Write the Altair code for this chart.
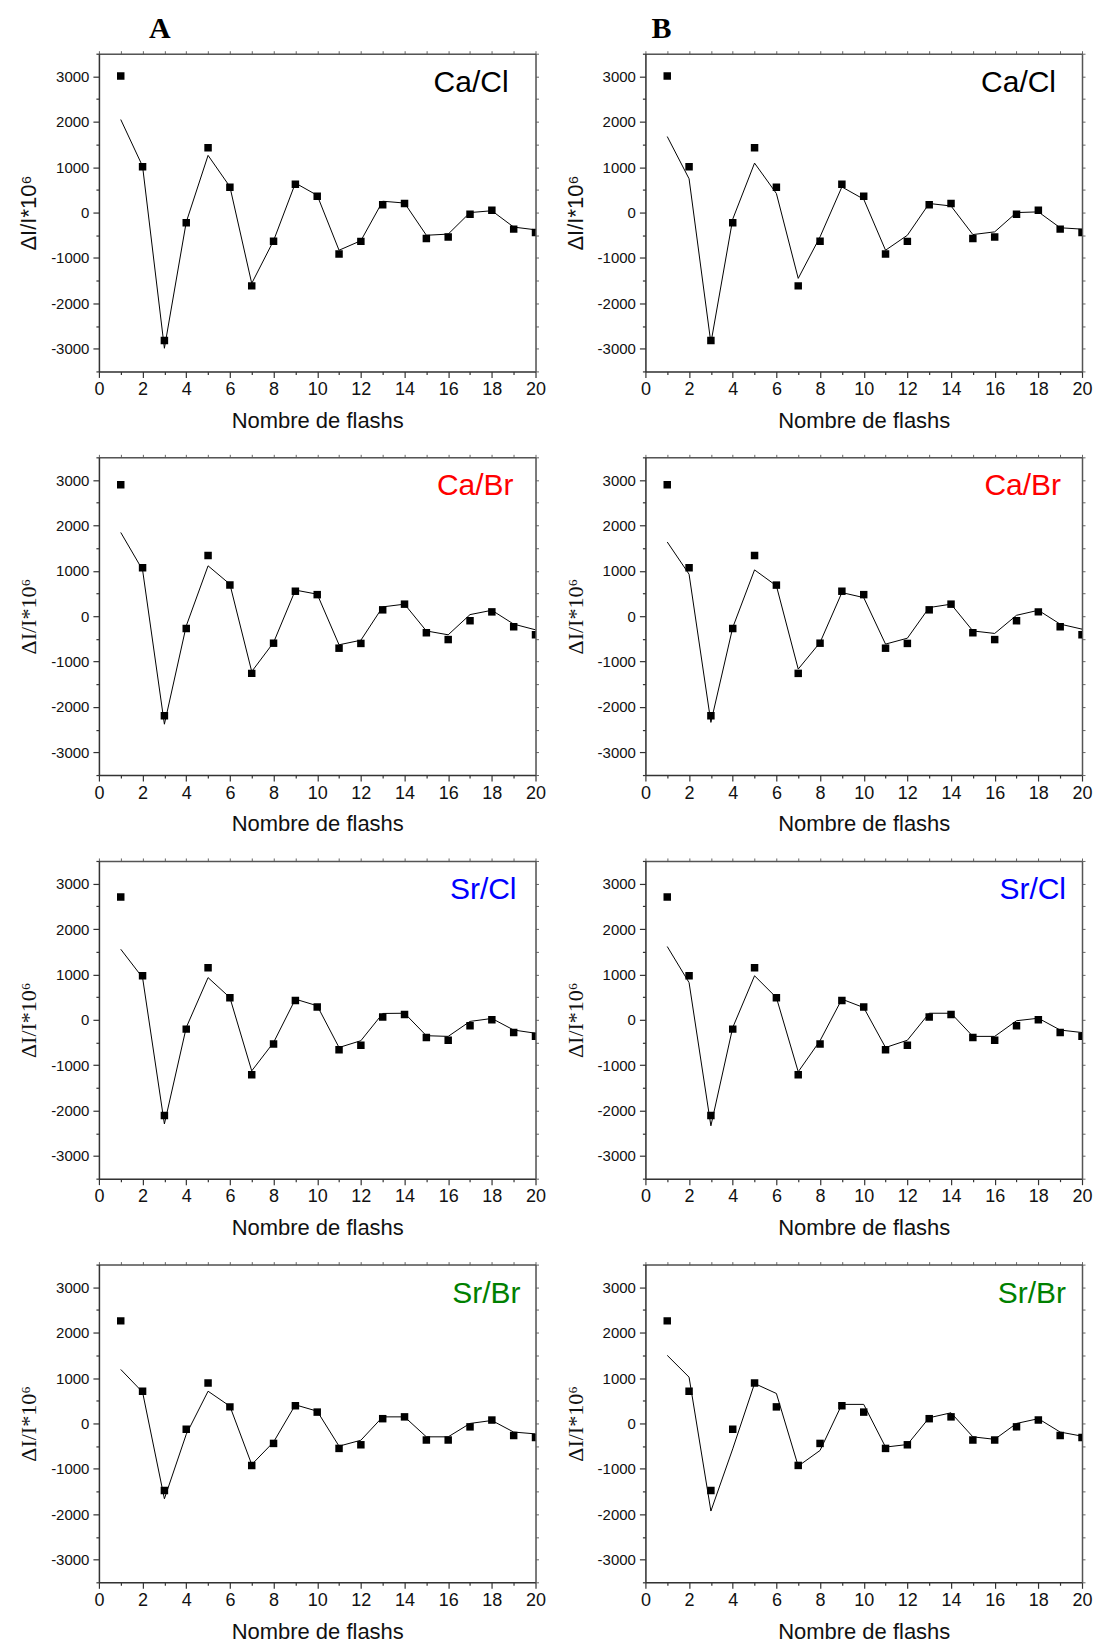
import altair as alt
import pandas as pd

# ---------------- data ----------------
flashes = list(range(1, 21))

# measured points (same experimental data in columns A and B)
obs_CaCl = [3010, 1010, -2820, -225, 1430, 560, -1615, -630, 625, 360, -915, -635, 170, 200, -570, -540, -35, 50, -365, -440]
obs_CaBr = [2895, 1065, -2195, -270, 1335, 685, -1260, -595, 550, 475, -705, -600, 140, 265, -365, -515, -100, 95, -235, -410]
obs_SrCl = [2705, 970, -2110, -205, 1145, 485, -1210, -535, 425, 280, -660, -560, 60, 115, -390, -450, -130, 0, -280, -360]
obs_SrBr = [2260, 710, -1475, -130, 890, 365, -925, -440, 390, 250, -550, -470, 105, 145, -365, -365, -75, 75, -265, -310]

# fitted curves, column A
fitA_CaCl = [2050, 1020, -2990, -210, 1260, 570, -1560, -620, 650, 380, -830, -620, 250, 210, -500, -475, 0, 40, -320, -380]
fitA_CaBr = [1845, 1020, -2380, -215, 1110, 705, -1220, -580, 575, 485, -630, -530, 205, 265, -325, -410, 35, 130, -175, -300]
fitA_SrCl = [1555, 930, -2295, -170, 930, 490, -1125, -500, 455, 310, -610, -460, 140, 145, -350, -365, -35, 30, -225, -295]
fitA_SrBr = [1190, 690, -1660, -240, 710, 380, -905, -410, 410, 270, -500, -370, 145, 145, -295, -295, 0, 65, -190, -230]

# fitted curves, column B
fitB_CaCl = [1675, 745, -2875, -145, 1090, 420, -1450, -535, 565, 295, -830, -500, 200, 145, -485, -425, 0, 15, -335, -365]
fitB_CaBr = [1635, 925, -2340, -250, 1020, 670, -1165, -580, 520, 410, -615, -485, 190, 265, -325, -380, 20, 130, -175, -285]
fitB_SrCl = [1615, 820, -2335, -170, 970, 490, -1145, -460, 455, 270, -610, -450, 145, 145, -365, -365, -20, 35, -225, -280]
fitB_SrBr = [1500, 1020, -1930, -560, 880, 660, -940, -595, 420, 420, -520, -465, 125, 235, -295, -350, 0, 105, -190, -280]

panel_labels = ["Ca/Cl", "Ca/Br", "Sr/Cl", "Sr/Br"]
label_colors = ["#000000", "#ff0000", "#0000ff", "#008000"]
column_letters = ["A", "B"]

x_tick_values = list(range(0, 21))
y_tick_values = list(range(-3500, 3501, 500))

obs_rows = [obs_CaCl, obs_CaBr, obs_SrCl, obs_SrBr]
fit_cols = [[fitA_CaCl, fitA_CaBr, fitA_SrCl, fitA_SrBr],
            [fitB_CaCl, fitB_CaBr, fitB_SrCl, fitB_SrBr]]

# ---------------- layout ----------------
W, H = 437, 318
SANS = "Liberation Sans"
SERIF = "Liberation Serif"
label_right_offset = [[27, 22, 19, 15], [26, 21, 16, 16]]
letter_x = [61, 16]

xscale = alt.Scale(domain=[0, 20], nice=False, zero=False)
yscale = alt.Scale(domain=[-3500, 3500], nice=False, zero=False)


def x_axis():
    return alt.Axis(
        orient="bottom", values=x_tick_values,
        labelExpr="datum.value % 2 === 0 ? '' + datum.value : ''",
        labelOverlap=False, labelFlush=False,
        tickSize={"condition": {"test": "datum.value % 2 === 0", "value": 6}, "value": 3},
        tickColor="#333", tickWidth=1.2, domainColor="#333", domainWidth=1.5,
        labelFont=SANS, labelFontSize=18, labelColor="#111", labelPadding=3,
        title="Nombre de flashs", titleFont=SANS, titleFontSize=22,
        titleFontWeight="normal", titleColor="#111", titlePadding=12, grid=False,
    )


def y_axis(font):
    return alt.Axis(
        orient="left", values=y_tick_values,
        labelExpr="datum.value % 1000 === 0 ? '' + datum.value : ''",
        labelOverlap=False, labelFlush=False,
        tickSize={"condition": {"test": "datum.value % 1000 === 0", "value": 6}, "value": 3},
        tickColor="#333", tickWidth=1.2, domainColor="#333", domainWidth=1.5,
        labelFont=SANS, labelFontSize=15, labelColor="#111", labelPadding=4,
        title="ΔI/I*10⁶", titleFont=font, titleFontSize=22,
        titleFontWeight="normal", titleColor="#111", titlePadding=10, grid=False,
    )


top_axis = alt.Axis(orient="top", values=x_tick_values, labels=False, title=None,
                    tickSize=3, tickColor="#666", domainColor="#555", domainWidth=1.5, grid=False)
right_axis = alt.Axis(orient="right", values=y_tick_values, labels=False, title=None,
                      tickSize=3, tickColor="#666", domainColor="#555", domainWidth=1.5, grid=False)


def panel(row, col):
    df = pd.DataFrame({"flash": flashes, "obs": obs_rows[row], "fit": fit_cols[col][row]})
    base = alt.Chart(df)
    line = base.mark_line(color="black", strokeWidth=1, clip=True).encode(
        x=alt.X("flash:Q", scale=xscale, axis=x_axis()),
        y=alt.Y("fit:Q", scale=yscale, axis=y_axis(SANS if row == 0 else SERIF)),
    )
    pts = base.mark_square(size=56, color="black", opacity=1, clip=True).encode(
        x=alt.X("flash:Q", scale=xscale, axis=top_axis),
        y=alt.Y("obs:Q", scale=yscale, axis=right_axis),
    )
    lab = alt.Chart(pd.DataFrame({"t": [panel_labels[row]]})).mark_text(
        align="right", baseline="alphabetic", font=SANS, fontSize=30,
        color=label_colors[row],
    ).encode(
        x=alt.value(W - label_right_offset[col][row]), y=alt.value(38), text="t:N"
    )
    layers = [line, pts, lab]
    if row == 0:
        letter = alt.Chart(pd.DataFrame({"t": [column_letters[col]]})).mark_text(
            align="center", baseline="alphabetic", font=SERIF, fontWeight="bold",
            fontSize=30, color="black",
        ).encode(x=alt.value(letter_x[col]), y=alt.value(-16), text="t:N")
        layers.append(letter)
    return alt.layer(*layers).resolve_axis(x="independent", y="independent").properties(
        width=W, height=H
    )


panels = [panel(r, c) for r in range(4) for c in range(2)]

chart = alt.concat(
    *panels, columns=2, spacing={"row": 86, "column": 110}, bounds="flush"
).properties(
    padding={"left": 9, "top": 4, "right": 0, "bottom": 0}
).configure_view(stroke=None).configure(background="white")

chart.save("out.html", embed_options={"renderer": "svg", "actions": False})
